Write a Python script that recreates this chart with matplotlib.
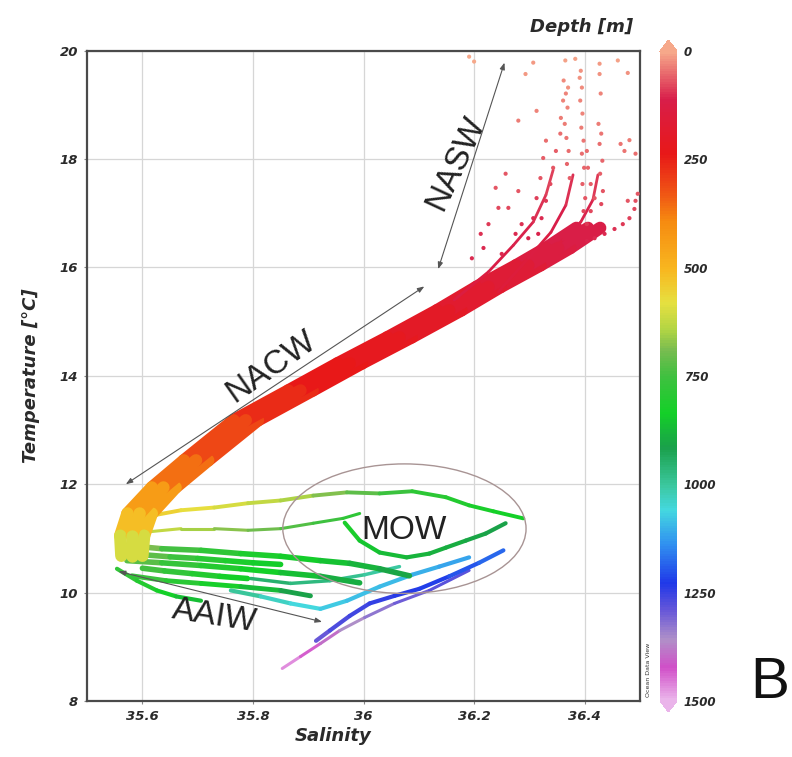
import numpy as np
import matplotlib
matplotlib.use('Agg')
import matplotlib.pyplot as plt
from matplotlib.collections import LineCollection
from matplotlib.colors import LinearSegmentedColormap, Normalize
from matplotlib.patches import Ellipse

# ---- data: salinity / temperature [degC] / depth [m] along each track ----

# NACW thermocline band (three neighbouring profiles sharing the depth levels)
nacw_depth = [110, 130, 150, 170, 190, 210, 230, 250, 280, 330, 390, 480, 560, 640]
nacw_temp = [16.73, 16.36, 16.04, 15.64, 15.21, 14.71, 14.23, 13.73, 13.18, 12.44, 11.94, 11.46, 11.05, 10.68]
nacw_a_sal = [36.385, 36.330, 36.276, 36.204, 36.133, 36.043, 35.953, 35.864, 35.765, 35.675, 35.617, 35.573, 35.560, 35.562]
nacw_b_sal = [36.406, 36.352, 36.298, 36.226, 36.155, 36.065, 35.975, 35.886, 35.787, 35.697, 35.638, 35.595, 35.581, 35.581]
nacw_c_sal = [36.428, 36.374, 36.320, 36.248, 36.177, 36.087, 35.997, 35.908, 35.809, 35.719, 35.660, 35.617, 35.603, 35.600]

# upper branches leaving the thermocline towards the surface
branch_1_sal = [36.164, 36.226, 36.271, 36.307, 36.330, 36.343]
branch_1_temp = [15.40, 15.92, 16.41, 16.84, 17.34, 17.80]
branch_1_depth = [150, 130, 115, 100, 90, 80]

branch_2_sal = [36.244, 36.298, 36.339, 36.366, 36.379]
branch_2_temp = [15.55, 16.17, 16.65, 17.15, 17.71]
branch_2_depth = [160, 140, 120, 105, 90]

branch_3_sal = [36.316, 36.361, 36.393, 36.415, 36.424]
branch_3_temp = [16.10, 16.51, 16.84, 17.25, 17.71]
branch_3_depth = [150, 130, 115, 100, 85]

# intermediate layers (MOW / AAIW)
upper_sal = [35.617, 35.670, 35.730, 35.791, 35.850, 35.909, 35.970, 36.029, 36.088, 36.149, 36.191, 36.235, 36.289]
upper_temp = [11.42, 11.52, 11.57, 11.65, 11.70, 11.79, 11.85, 11.83, 11.87, 11.76, 11.61, 11.50, 11.37]
upper_depth = [540, 565, 590, 610, 635, 665, 700, 740, 780, 800, 815, 830, 845]

dashed_sal = [35.599, 35.670, 35.730, 35.791, 35.850, 35.909, 35.963, 35.993]
dashed_temp = [11.11, 11.18, 11.18, 11.15, 11.18, 11.28, 11.37, 11.46]
dashed_depth = [610, 640, 665, 690, 715, 740, 770, 790]

mow_sal = [35.966, 35.993, 36.029, 36.078, 36.119, 36.149, 36.185, 36.221, 36.257]
mow_temp = [11.29, 10.96, 10.74, 10.65, 10.72, 10.83, 10.96, 11.09, 11.28]
mow_depth = [810, 840, 860, 875, 885, 890, 900, 910, 915]

green_a_sal = [35.572, 35.635, 35.706, 35.778, 35.850, 35.922, 35.975, 36.029, 36.083]
green_a_temp = [10.87, 10.81, 10.78, 10.72, 10.67, 10.59, 10.54, 10.44, 10.31]
green_a_depth = [660, 720, 770, 800, 830, 850, 870, 890, 920]

green_b_sal = [35.572, 35.635, 35.706, 35.778, 35.850, 35.922, 35.993]
green_b_temp = [10.59, 10.55, 10.50, 10.44, 10.37, 10.30, 10.18]
green_b_depth = [700, 750, 790, 820, 850, 880, 910]

green_c_sal = [35.581, 35.643, 35.706, 35.778, 35.850, 35.904]
green_c_temp = [10.31, 10.22, 10.17, 10.11, 10.04, 9.94]
green_c_depth = [740, 780, 810, 850, 890, 930]

green_d_sal = [35.600, 35.650, 35.700, 35.750, 35.800, 35.850]
green_d_temp = [10.70, 10.66, 10.63, 10.59, 10.55, 10.52]
green_d_depth = [700, 740, 780, 810, 830, 850]

green_e_sal = [35.600, 35.640, 35.690, 35.740, 35.790]
green_e_temp = [10.45, 10.40, 10.35, 10.30, 10.26]
green_e_depth = [730, 760, 790, 820, 845]

aaiw_sal = [35.554, 35.590, 35.626, 35.661, 35.706]
aaiw_temp = [10.44, 10.22, 10.04, 9.93, 9.85]
aaiw_depth = [760, 790, 820, 850, 880]

teal_sal = [35.796, 35.868, 35.939, 36.002, 36.065]
teal_temp = [10.26, 10.17, 10.22, 10.33, 10.48]
teal_depth = [940, 960, 980, 1000, 1010]

cyan_sal = [35.760, 35.814, 35.868, 35.922, 35.970, 36.029, 36.088, 36.137, 36.191]
cyan_temp = [10.04, 9.93, 9.80, 9.70, 9.85, 10.11, 10.33, 10.48, 10.65]
cyan_depth = [980, 1020, 1050, 1070, 1080, 1090, 1100, 1110, 1120]

blue_sal = [35.914, 35.939, 35.975, 36.011, 36.056, 36.101, 36.155, 36.209, 36.253]
blue_temp = [9.11, 9.30, 9.57, 9.80, 9.94, 10.07, 10.30, 10.55, 10.78]
blue_depth = [1300, 1280, 1260, 1250, 1240, 1230, 1210, 1190, 1170]

deep_sal = [35.853, 35.886, 35.922, 35.957, 36.002, 36.056, 36.119, 36.191]
deep_temp = [8.60, 8.82, 9.06, 9.30, 9.54, 9.80, 10.04, 10.41]
deep_depth = [1480, 1450, 1410, 1370, 1340, 1310, 1290, 1270]

# near-surface samples (NASW)
surf_sal = [
    36.191, 36.200, 36.293, 36.307, 36.365, 36.383, 36.393, 36.427, 36.460, 36.478,
    36.362, 36.366, 36.369, 36.364, 36.367, 36.371, 36.368, 36.373,
    36.391, 36.395, 36.392, 36.396, 36.394, 36.398, 36.395, 36.399, 36.396, 36.401, 36.398,
    36.427, 36.429, 36.425, 36.430, 36.427, 36.432, 36.428, 36.433, 36.430,
    36.465, 36.472, 36.481, 36.492, 36.478,
    36.404, 36.418, 36.436, 36.454, 36.469, 36.481, 36.490, 36.492, 36.496,
    36.316, 36.322, 36.330, 36.338, 36.343, 36.348, 36.356, 36.357, 36.361, 36.370,
    36.298, 36.307, 36.313, 36.320, 36.325, 36.330,
    36.313, 36.280, 36.280, 36.257, 36.239, 36.244, 36.262, 36.212, 36.226, 36.275, 36.286, 36.250, 36.196, 36.217,
    36.404, 36.406, 36.411, 36.418, 36.411, 36.404,
]
surf_temp = [
    19.89, 19.80, 19.57, 19.78, 19.82, 19.85, 19.63, 19.76, 19.82, 19.59,
    19.45, 19.21, 18.95, 18.65, 18.39, 18.15, 17.91, 17.65,
    19.50, 19.32, 19.08, 18.84, 18.58, 18.34, 18.10, 17.84, 17.54, 17.28, 17.04,
    19.57, 19.21, 18.65, 18.47, 18.28, 17.97, 17.73, 17.41, 17.17,
    18.28, 18.15, 18.35, 18.10, 17.23,
    16.49, 16.54, 16.62, 16.71, 16.80, 16.91, 17.08, 17.23, 17.36,
    16.62, 16.91, 17.23, 17.54, 17.84, 18.15, 18.47, 18.76, 19.08, 19.32,
    16.54, 16.91, 17.28, 17.65, 18.02, 18.34,
    18.89, 18.71, 17.41, 17.73, 17.47, 17.10, 17.10, 16.62, 16.80, 16.62, 16.80, 16.25, 16.17, 16.36,
    18.15, 17.84, 17.54, 17.28, 17.04, 16.80,
]
surf_depth = [
    5, 5, 15, 15, 10, 10, 20, 15, 10, 20,
    25, 30, 35, 40, 45, 50, 55, 60,
    20, 25, 30, 35, 40, 45, 50, 55, 60, 70, 80,
    20, 30, 40, 45, 50, 55, 60, 70, 80,
    45, 45, 40, 50, 70,
    110, 105, 100, 95, 90, 85, 80, 75, 70,
    110, 100, 90, 80, 70, 60, 50, 40, 30, 20,
    110, 100, 85, 70, 60, 50,
    35, 40, 70, 65, 70, 80, 80, 95, 90, 100, 95, 105, 100, 100,
    50, 55, 60, 70, 80, 90,
]

sal_ticks = [35.6, 35.8, 36.0, 36.2, 36.4]
sal_tick_labels = ['35.6', '35.8', '36', '36.2', '36.4']
temp_ticks = [8, 10, 12, 14, 16, 18, 20]
depth_ticks = [0, 250, 500, 750, 1000, 1250, 1500]

# ---- colour scale for depth ----
depth_cmap = LinearSegmentedColormap.from_list('odv_depth', [
    (0.000, '#f6a88a'), (0.073, '#d81e4a'), (0.157, '#e81818'), (0.223, '#f05a14'),
    (0.260, '#f68a10'), (0.337, '#f8b820'), (0.387, '#e6e040'), (0.430, '#b0d444'),
    (0.460, '#78bc50'), (0.500, '#40c040'), (0.557, '#14d028'), (0.610, '#1aa04a'),
    (0.670, '#3cc8a0'), (0.707, '#44d8e0'), (0.760, '#3090f0'), (0.820, '#2038e8'),
    (0.863, '#6858d8'), (0.907, '#b090c8'), (0.950, '#d050c8'), (1.000, '#eab4ea'),
])
depth_norm = Normalize(vmin=0, vmax=1500)

bold_it = dict(family='DejaVu Sans', weight='bold', style='italic', color='#2a2a2a')

fig = plt.figure(figsize=(7.92, 7.57), dpi=100)
ax = fig.add_axes([0.110, 0.074, 0.698, 0.859])


def draw_track(sal, temp, depth, lw):
    pts = np.column_stack([sal, temp])
    segs = np.stack([pts[:-1], pts[1:]], axis=1)
    seg_depth = (np.asarray(depth[:-1]) + np.asarray(depth[1:])) / 2
    lc = LineCollection(segs, cmap=depth_cmap, norm=depth_norm, linewidths=lw,
                        capstyle='round', joinstyle='round', zorder=3)
    lc.set_array(seg_depth)
    ax.add_collection(lc)


# deep and intermediate water first, thermocline on top
draw_track(deep_sal, deep_temp, deep_depth, 2.2)
draw_track(blue_sal, blue_temp, blue_depth, 3.0)
draw_track(cyan_sal, cyan_temp, cyan_depth, 3.0)
draw_track(teal_sal, teal_temp, teal_depth, 2.5)
draw_track(green_c_sal, green_c_temp, green_c_depth, 3.5)
draw_track(aaiw_sal, aaiw_temp, aaiw_depth, 3.0)
draw_track(green_e_sal, green_e_temp, green_e_depth, 4.0)
draw_track(green_b_sal, green_b_temp, green_b_depth, 4.0)
draw_track(green_d_sal, green_d_temp, green_d_depth, 4.0)
draw_track(green_a_sal, green_a_temp, green_a_depth, 4.0)
draw_track(mow_sal, mow_temp, mow_depth, 3.0)
draw_track(dashed_sal, dashed_temp, dashed_depth, 2.2)
draw_track(upper_sal, upper_temp, upper_depth, 2.8)

for s in (nacw_a_sal, nacw_c_sal, nacw_b_sal):
    draw_track(s, nacw_temp, nacw_depth, 9.0)

for s, t, d in [(branch_1_sal, branch_1_temp, branch_1_depth),
                (branch_2_sal, branch_2_temp, branch_2_depth),
                (branch_3_sal, branch_3_temp, branch_3_depth)]:
    draw_track(s, t, d, 2.0)

ax.scatter(surf_sal, surf_temp, c=surf_depth, cmap=depth_cmap, norm=depth_norm,
           s=9, linewidths=0, zorder=4)

# water mass annotations
line_kw = dict(arrowstyle='<|-|>,head_length=0.4,head_width=0.15', color='#555555',
               lw=0.8, shrinkA=0, shrinkB=0)
label_kw = dict(family='Liberation Sans', fontsize=24, color='#222222',
                ha='center', va='center', rotation_mode='anchor', zorder=6)

ax.annotate('', xy=(36.11, 15.65), xytext=(35.57, 12.0), arrowprops=line_kw, zorder=5)
ax.text(35.832, 14.16, 'NACW', rotation=35, **label_kw)

ax.annotate('', xy=(36.255, 19.78), xytext=(36.135, 15.97), arrowprops=line_kw, zorder=5)
ax.text(36.167, 17.93, 'NASW', rotation=65, **label_kw)

ax.annotate('', xy=(35.925, 9.46), xytext=(35.557, 10.39), arrowprops=line_kw, zorder=5)
ax.text(35.730, 9.57, 'AAIW', rotation=-9, **label_kw)

ax.add_patch(Ellipse((36.074, 11.18), 0.44, 2.39, fill=False,
                     edgecolor='#a89494', lw=1.0, zorder=5))
ax.text(36.074, 11.15, 'MOW', **label_kw)

# axes styling
ax.set_xlim(35.5, 36.5)
ax.set_ylim(8, 20)
ax.set_xticks(sal_ticks)
ax.set_xticklabels(sal_tick_labels)
ax.set_yticks(temp_ticks)
ax.grid(True, color='#d6d6d6', lw=0.9)
ax.set_axisbelow(True)
for sp in ax.spines.values():
    sp.set_color('#4a4a4a')
    sp.set_linewidth(1.6)
ax.tick_params(length=2.5, color='#888888', pad=4)
for lab in ax.get_xticklabels() + ax.get_yticklabels():
    lab.set(fontsize=9.5, **bold_it)

ax.set_xlabel('Salinity', fontsize=13, **bold_it)
ax.xaxis.set_label_coords(0.445, -0.04)
ax.set_ylabel('Temperature [°C]', fontsize=13, **bold_it)
ax.yaxis.set_label_coords(-0.085, 0.5)

# depth colour bar, 0 m at the top
cax = fig.add_axes([0.8333, 0.0594, 0.0215, 0.8877])
sm = plt.cm.ScalarMappable(cmap=depth_cmap, norm=depth_norm)
cbar = fig.colorbar(sm, cax=cax, extend='both', extendfrac=0.017, ticks=depth_ticks)
cbar.ax.invert_yaxis()
cbar.outline.set_visible(False)
cbar.ax.tick_params(length=0, pad=5)
for lab in cbar.ax.get_yticklabels():
    lab.set(fontsize=8.5, **bold_it)

fig.text(0.800, 1 - 27 / 757, 'Depth [m]', ha='right', va='center', fontsize=13, **bold_it)
fig.text(649 / 792, 1 - 670 / 757, 'Ocean Data View', rotation=90, ha='center',
         va='center', fontsize=4.5, color='#333333')
fig.text(770 / 792, 1 - 683 / 757, 'B', ha='center', va='center', fontsize=42,
         family='Liberation Sans', color='#111111')

fig.savefig('out.png', dpi=100)
